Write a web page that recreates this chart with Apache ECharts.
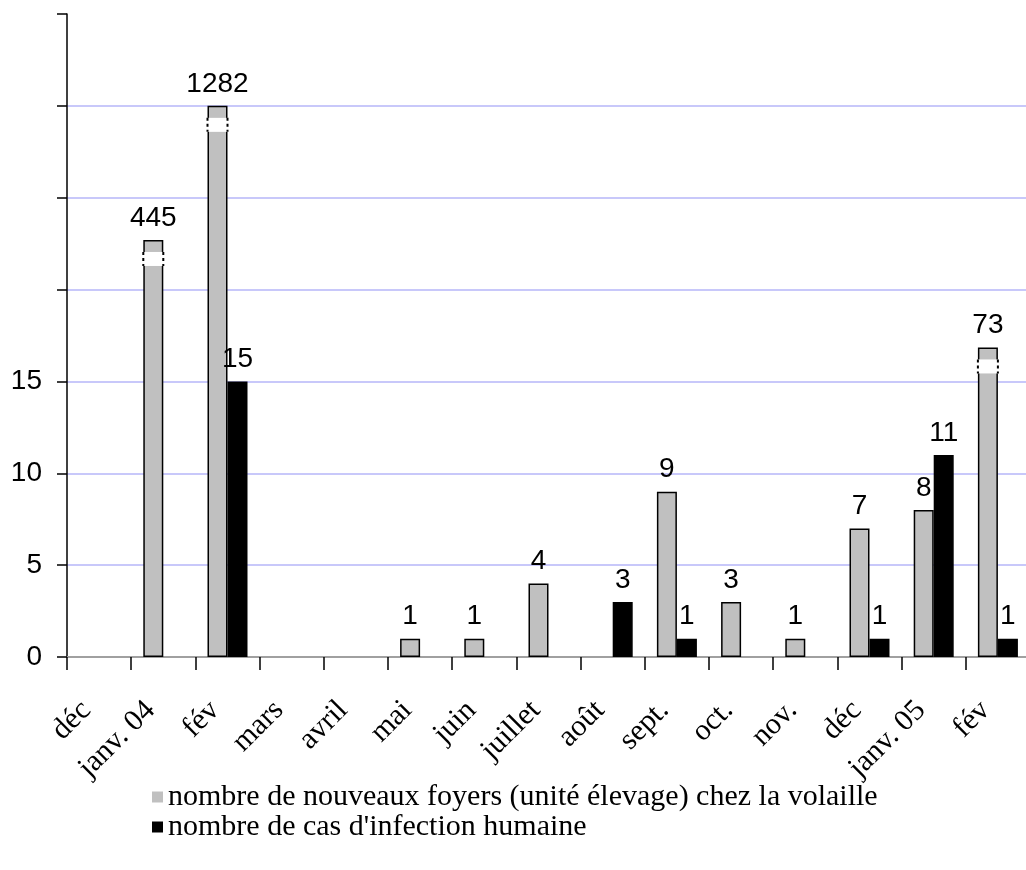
<!DOCTYPE html>
<html>
<head>
<meta charset="utf-8">
<script src="https://cdn.jsdelivr.net/npm/echarts@6.0.0/dist/echarts.min.js"></script>
<style>
  html, body { margin: 0; padding: 0; background: #fff; }
  #chart { width: 1026px; height: 870px; }
</style>
</head>
<body>
<div id="chart"></div>
<script>
// Monthly bird-flu counts, Dec 2003 – Feb 2005
const months = ['déc', 'janv. 04', 'fév', 'mars', 'avril', 'mai', 'juin', 'juillet', 'août', 'sept.', 'oct.', 'nov.', 'déc', 'janv. 05', 'fév'];
const poultryOutbreaks = [null, 445, 1282, null, null, 1, 1, 4, null, 9, 3, 1, 7, 8, 73];
const humanCases = [null, null, 15, null, null, null, null, null, 3, 1, null, null, 1, 11, 1];
const yTickLabels = ['0', '5', '10', '15'];
const seriesNames = [
  'nombre de nouveaux foyers (unité élevage) chez la volaille',
  "nombre de cas d'infection humaine"
];

// Broken value axis: collapsed ranges keep the very large counts on the chart
const axisBreaks = [
  { start: 16, end: 72.9, gap: 0.75 },
  { start: 73.5, end: 444, gap: 4.35 },
  { start: 446, end: 1281, gap: 5.3 }
];
const DATA_MAX = 1287;
const SCALE_MAX = 35;
const BAR_W = 20;

// bars that run through a break get a white cut mark near their top
const brokenBars = poultryOutbreaks
  .map((v, i) => [i, v])
  .filter(d => d[1] != null && d[1] > axisBreaks[0].start);

const chart = echarts.init(document.getElementById('chart'), null, { renderer: 'canvas' });

const valueLabel = {
  show: true,
  position: 'top',
  distance: 8,
  fontFamily: 'Liberation Sans',
  fontSize: 28,
  color: '#000'
};

chart.setOption({
  animation: false,
  backgroundColor: '#fff',
  grid: { left: 67, top: 14, width: 963, height: 643, outerBoundsMode: 'none', containLabel: false },
  legend: {
    orient: 'vertical',
    left: 152,
    top: 782,
    padding: 0,
    icon: 'rect',
    itemWidth: 11,
    itemHeight: 11,
    itemGap: 0,
    textStyle: { fontFamily: 'Liberation Serif', fontSize: 30, color: '#000' },
    data: [
      { name: seriesNames[0], itemStyle: { color: '#c0c0c0', borderWidth: 0 } },
      { name: seriesNames[1], itemStyle: { color: '#000', borderWidth: 0 } }
    ]
  },
  xAxis: [
    {
      type: 'category',
      data: months,
      position: 'bottom',
      boundaryGap: true,
      axisLine: { onZero: false, lineStyle: { color: '#000', width: 2 } },
      axisTick: { show: true, interval: 0, length: 13, lineStyle: { color: '#000', width: 1.5 } },
      axisLabel: {
        interval: 0,
        rotate: 45,
        margin: 36,
        padding: [0, 18, 0, 0],
        fontFamily: 'Liberation Serif',
        fontSize: 30,
        color: '#000'
      }
    },
    {
      type: 'category',
      data: months,
      position: 'top',
      axisLine: { lineStyle: { color: '#a0a0a0', width: 2 } },
      axisTick: { show: false },
      axisLabel: { show: false }
    }
  ],
  yAxis: [
    {
      type: 'value',
      min: 0,
      max: SCALE_MAX,
      interval: 5,
      position: 'left',
      axisLine: { show: true, lineStyle: { color: '#000', width: 1.5 } },
      axisTick: { show: true, length: 10, lineStyle: { color: '#000', width: 1.5 } },
      axisLabel: {
        margin: 25,
        fontFamily: 'Liberation Sans',
        fontSize: 28,
        color: '#000',
        formatter: v => (yTickLabels.includes(String(v)) ? String(v) : '')
      },
      splitLine: {
        show: true,
        showMinLine: false,
        showMaxLine: false,
        lineStyle: { color: '#c8c8fa', width: 2 }
      }
    },
    {
      type: 'value',
      show: false,
      min: 0,
      max: DATA_MAX,
      breaks: axisBreaks,
      breakArea: { show: false },
      splitLine: { show: false }
    }
  ],
  series: [
    {
      name: seriesNames[0],
      type: 'bar',
      xAxisIndex: 0,
      yAxisIndex: 1,
      data: poultryOutbreaks,
      barWidth: BAR_W,
      barGap: '0%',
      itemStyle: { color: '#c0c0c0', borderColor: '#000', borderWidth: 1.5 },
      label: valueLabel
    },
    {
      name: seriesNames[1],
      type: 'bar',
      xAxisIndex: 0,
      yAxisIndex: 1,
      data: humanCases,
      barWidth: BAR_W,
      barGap: '0%',
      itemStyle: { color: '#000', borderColor: '#000', borderWidth: 1.5 },
      label: valueLabel
    },
    {
      type: 'custom',
      xAxisIndex: 0,
      yAxisIndex: 1,
      silent: true,
      z: 5,
      data: brokenBars,
      renderItem: (params, api) => {
        const p = api.coord([api.value(0), api.value(1)]);
        const x0 = p[0] - BAR_W;
        const y0 = p[1] + 12;
        const h = 14;
        return {
          type: 'group',
          children: [
            { type: 'rect', shape: { x: x0 - 1, y: y0, width: BAR_W + 2, height: h }, style: { fill: '#fff' } },
            { type: 'line', shape: { x1: x0, y1: y0, x2: x0, y2: y0 + h }, style: { stroke: '#000', lineWidth: 2, lineDash: [3, 3] } },
            { type: 'line', shape: { x1: x0 + BAR_W, y1: y0, x2: x0 + BAR_W, y2: y0 + h }, style: { stroke: '#000', lineWidth: 2, lineDash: [3, 3] } }
          ]
        };
      }
    }
  ]
});
</script>
</body>
</html>
